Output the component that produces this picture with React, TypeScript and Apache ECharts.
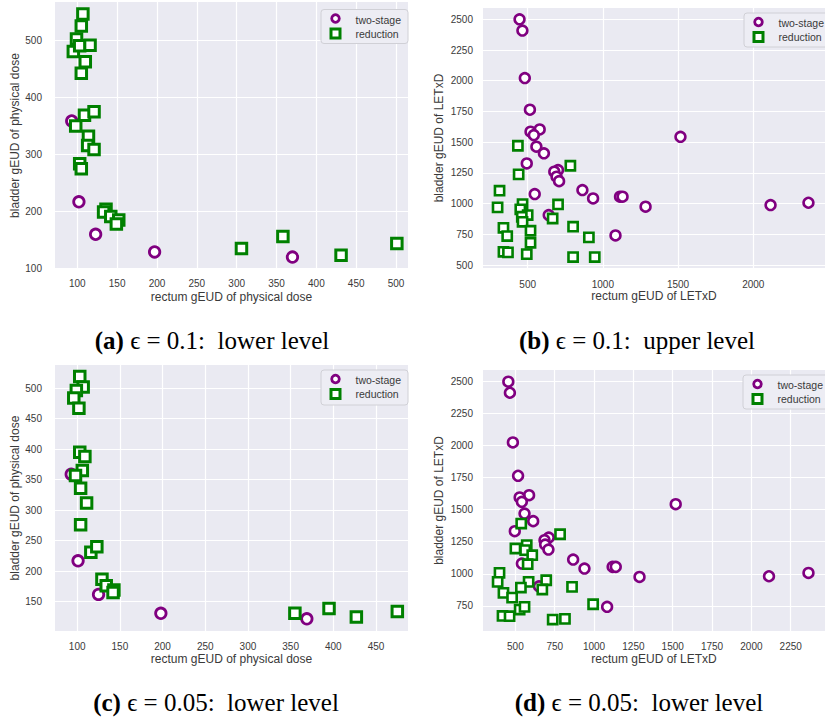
import React, { useEffect, useRef } from "react";
import * as echarts from "echarts";

// Panel (a): eps = 0.1, lower level (physical dose)
const aTwoStage: number[][] = [
  [93, 359], [102, 217], [123, 160], [197, 129], [370, 120],
];
const aReduction: number[][] = [
  [107, 547], [105, 526], [99, 503], [95, 481], [103, 491], [116, 492], [110, 463], [105, 443],
  [109, 369], [121, 375], [98, 350], [114, 332], [113, 316], [121, 309], [103, 284], [105, 275],
  [136, 204], [133, 199], [142, 191], [152, 185], [149, 178], [306, 135], [358, 156], [431, 123], [501, 144],
];
// Panel (b): eps = 0.1, upper level (LETxD)
const bTwoStage: number[][] = [
  [446, 2500], [465, 2408], [481, 2022], [515, 1764], [580, 1604], [519, 1585], [541, 1558], [558, 1463],
  [608, 1409], [494, 1327], [702, 1273], [677, 1260], [692, 1219], [709, 1183], [547, 1078], [864, 1110],
  [935, 1042], [1114, 1056], [1131, 1056], [640, 907], [1084, 741], [1284, 975], [1516, 1544], [2115, 988], [2367, 1007],
];
const bReduction: number[][] = [
  [435, 1471], [440, 1238], [784, 1308], [313, 1105], [300, 969], [466, 996], [451, 953], [500, 907],
  [461, 893], [466, 852], [702, 993], [666, 879], [339, 803], [364, 736], [519, 779], [519, 681],
  [339, 608], [369, 603], [494, 589], [802, 812], [907, 725], [802, 565], [946, 565],
];
// Panel (c): eps = 0.05, lower level (physical dose)
const cTwoStage: number[][] = [
  [93, 359], [101, 217], [125, 162], [198, 131], [369, 122],
];
const cReduction: number[][] = [
  [103, 519], [107, 502], [99, 496], [96, 484], [102, 467], [103, 395], [109, 388], [106, 365],
  [98, 357], [104, 336], [111, 312], [104, 276], [116, 231], [123, 240], [129, 187], [134, 176],
  [143, 169], [142, 165], [355, 131], [395, 139], [427, 125], [475, 134],
];
// Panel (d): eps = 0.05 (LETxD)
const dTwoStage: number[][] = [
  [455, 2495], [465, 2409], [484, 2022], [517, 1763], [587, 1612], [527, 1594], [541, 1560], [558, 1469],
  [613, 1410], [496, 1332], [712, 1282], [685, 1262], [689, 1228], [710, 1189], [541, 1080], [867, 1111],
  [939, 1041], [1118, 1054], [1138, 1054], [650, 903], [1083, 743], [1289, 976], [1519, 1542], [2112, 981], [2363, 1007],
];
const dReduction: number[][] = [
  [537, 1391], [784, 1308], [500, 1197], [572, 1223], [562, 1184], [607, 1145], [578, 1075], [399, 1007],
  [387, 937], [584, 937], [696, 950], [671, 878], [860, 898], [424, 852], [479, 815], [535, 893],
  [527, 722], [558, 743], [418, 672], [463, 670], [737, 644], [815, 649], [994, 763],
];

const aXTicks = [100, 150, 200, 250, 300, 350, 400, 450, 500];
const aYTicks = [100, 200, 300, 400, 500];
const bXTicks = [500, 1000, 1500, 2000];
const bYTicks = [500, 750, 1000, 1250, 1500, 1750, 2000, 2250, 2500];
const cXTicks = [100, 150, 200, 250, 300, 350, 400, 450];
const cYTicks = [150, 200, 250, 300, 350, 400, 450, 500];
const dXTicks = [500, 750, 1000, 1250, 1500, 1750, 2000, 2250];
const dYTicks = [750, 1000, 1250, 1500, 1750, 2000, 2250, 2500];

const seriesNames = ["two-stage", "reduction"];
const captions = [
  { tag: "(a)", text: "ϵ = 0.1:  lower level" },
  { tag: "(b)", text: "ϵ = 0.1:  upper level" },
  { tag: "(c)", text: "ϵ = 0.05:  lower level" },
  { tag: "(d)", text: "ϵ = 0.05:  lower level" },
];
const xNames = ["rectum gEUD of physical dose", "rectum gEUD of LETxD", "rectum gEUD of physical dose", "rectum gEUD of LETxD"];
const yNames = ["bladder gEUD of physical dose", "bladder gEUD of LETxD", "bladder gEUD of physical dose", "bladder gEUD of LETxD"];

const PURPLE = "#800080";
const GREEN = "#008000";
const BG = "#EAEAF2";
const TXT = "#3a3a3a";
const SANS = "Liberation Sans, Arial, sans-serif";
const SERIF = "Liberation Serif, Times New Roman, serif";

export default function App() {
  const ref = useRef<HTMLDivElement>(null);
  useEffect(() => {
    if (!ref.current) return;
    const chart = echarts.init(ref.current, undefined, { renderer: "svg" });

    const grids = [
      { left: 55, top: 2, width: 353, height: 267 },
      { left: 483, top: 8, width: 352, height: 260 },
      { left: 55, top: 365, width: 353, height: 266 },
      { left: 483, top: 370, width: 352, height: 261 },
    ];
    const xr = [[72, 515], [203, 2477], [74, 487.5], [294, 2468]];
    const yr = [[99, 568], [476, 2592], [102, 538], [555, 2586]];
    const xt = [aXTicks, bXTicks, cXTicks, dXTicks];
    const yt = [aYTicks, bYTicks, cYTicks, dYTicks];
    const lm = [[9, 13], [11, 10], [10, 13], [10, 10]];
    const yGap = [33, 38, 33, 38];
    const circ = [[10.5, 2.8], [9.8, 2.6], [10.5, 2.8], [9.8, 2.6]];
    const sq = [[10.5, 3], [9.2, 2.6], [10.5, 3], [9.2, 2.6]];
    const data = [
      [aTwoStage, aReduction],
      [bTwoStage, bReduction],
      [cTwoStage, cReduction],
      [dTwoStage, dReduction],
    ];
    const fmt = (v: number) => String(v);

    const xAxis = xt.map((ticks, i) => ({
      type: "value",
      gridIndex: i,
      min: xr[i][0],
      max: xr[i][1],
      name: xNames[i],
      nameLocation: "middle",
      nameGap: 22,
      nameTextStyle: { fontFamily: SANS, fontSize: 12, color: TXT },
      axisLine: { show: false },
      axisTick: { show: false, customValues: ticks },
      axisLabel: { customValues: ticks, formatter: fmt, fontFamily: SANS, fontSize: 10, color: TXT, margin: lm[i][0] },
      splitLine: { show: true, lineStyle: { color: "#ffffff", width: 1.2 } },
    }));
    const yAxis = yt.map((ticks, i) => ({
      type: "value",
      gridIndex: i,
      min: yr[i][0],
      max: yr[i][1],
      name: yNames[i],
      nameLocation: "middle",
      nameGap: yGap[i],
      nameTextStyle: { fontFamily: SANS, fontSize: 12, color: TXT },
      axisLine: { show: false },
      axisTick: { show: false, customValues: ticks },
      axisLabel: { customValues: ticks, formatter: fmt, fontFamily: SANS, fontSize: 10, color: TXT, margin: lm[i][1] },
      splitLine: { show: true, lineStyle: { color: "#ffffff", width: 1.2 } },
    }));

    const series: any[] = [];
    data.forEach((pair, i) => {
      series.push({
        type: "scatter",
        name: seriesNames[0],
        xAxisIndex: i,
        yAxisIndex: i,
        data: pair[0],
        symbol: "circle",
        symbolSize: circ[i][0],
        itemStyle: { color: "#ffffff", borderColor: PURPLE, borderWidth: circ[i][1], opacity: 1 },
        z: 2,
      });
      series.push({
        type: "scatter",
        name: seriesNames[1],
        xAxisIndex: i,
        yAxisIndex: i,
        data: pair[1],
        symbol: "rect",
        symbolSize: sq[i][0],
        itemStyle: { color: "#ffffff", borderColor: GREEN, borderWidth: sq[i][1], opacity: 1 },
        z: 3,
      });
    });

    const legendBoxes = [
      { x: 321, y: 9.5, w: 87, h: 34 },
      { x: 744, y: 13, w: 100, h: 34 },
      { x: 321, y: 370, w: 87, h: 35 },
      { x: 743, y: 375, w: 100, h: 34 },
    ];
    const graphic: any[] = [];
    legendBoxes.forEach((b) => {
      const mx = b.x + 14.5;
      const r1 = b.y + 9;
      const r2 = b.y + 24;
      graphic.push({
        type: "rect",
        shape: { x: b.x, y: b.y, width: b.w, height: b.h, r: 3 },
        style: { fill: "#EDEDF4", stroke: "#d0d0d6", lineWidth: 1 },
        z: 10,
      });
      graphic.push({
        type: "circle",
        shape: { cx: mx, cy: r1, r: 3.8 },
        style: { fill: "#ffffff", stroke: PURPLE, lineWidth: 2.8 },
        z: 11,
      });
      graphic.push({
        type: "rect",
        shape: { x: mx - 4.5, y: r2 - 4.5, width: 9, height: 9 },
        style: { fill: "#ffffff", stroke: GREEN, lineWidth: 3 },
        z: 11,
      });
      graphic.push({
        type: "text",
        x: b.x + 34.5,
        y: r1 + 1,
        style: { text: seriesNames[0], fontFamily: SANS, fontSize: 10.5, fill: TXT, verticalAlign: "middle" },
        z: 11,
      });
      graphic.push({
        type: "text",
        x: b.x + 34.5,
        y: r2,
        style: { text: seriesNames[1], fontFamily: SANS, fontSize: 10.5, fill: TXT, verticalAlign: "middle" },
        z: 11,
      });
    });

    const capPos = [
      [212, 340], [637, 340], [216, 702], [639, 702],
    ];
    captions.forEach((c, i) => {
      graphic.push({
        type: "text",
        x: capPos[i][0],
        y: capPos[i][1],
        style: {
          text: `{b|${c.tag}} ${c.text}`,
          align: "center",
          verticalAlign: "middle",
          fontFamily: SERIF,
          fontSize: 25,
          fill: "#000",
          rich: { b: { fontWeight: "bold", fontFamily: SERIF, fontSize: 25, fill: "#000" } },
        },
        z: 11,
      });
    });

    chart.setOption({
      animation: false,
      backgroundColor: "#ffffff",
      grid: grids.map((g) => ({ ...g, show: true, backgroundColor: BG, borderWidth: 0, containLabel: false })),
      xAxis,
      yAxis,
      series,
      graphic,
    } as any);

    return () => chart.dispose();
  }, []);

  return (
    <div
      ref={ref}
      style={{ position: "absolute", left: 0, top: 0, width: 825, height: 719 }}
    />
  );
}
